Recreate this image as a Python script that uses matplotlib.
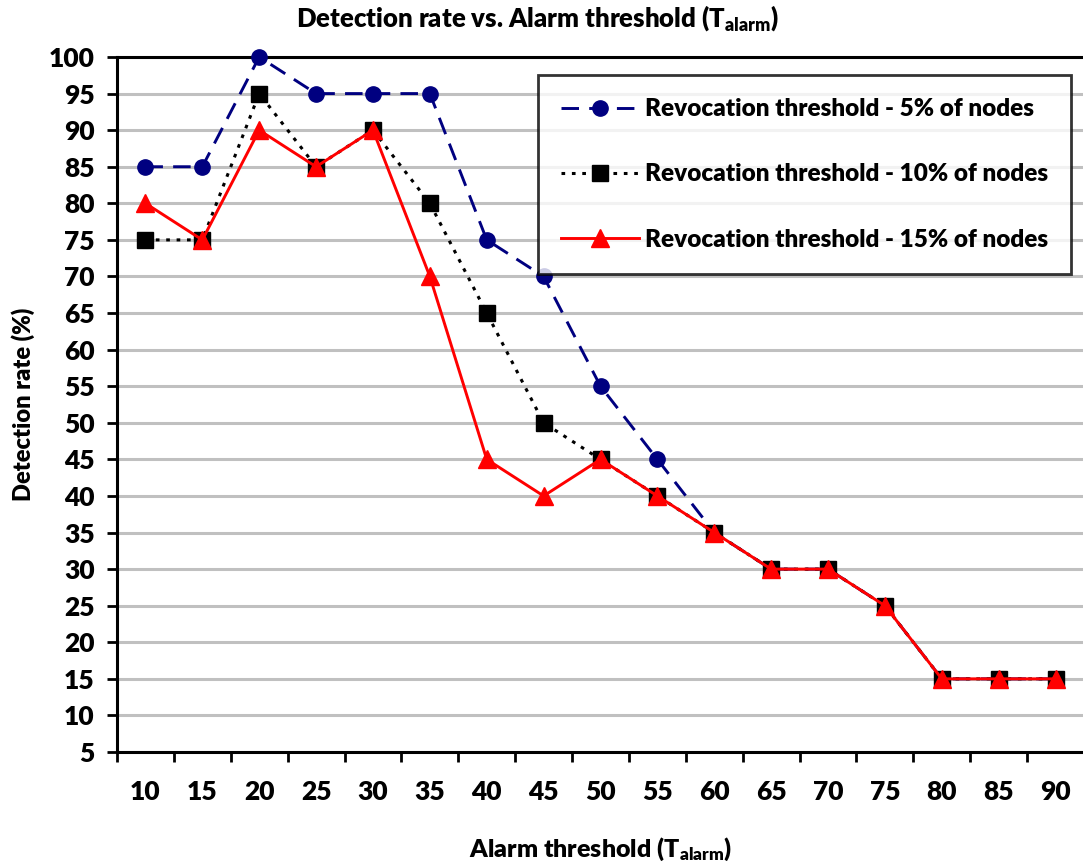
import matplotlib
matplotlib.use("Agg")
import matplotlib.pyplot as plt
from matplotlib.ticker import FixedLocator

plt.rcParams['font.family'] = ['Lato', 'DejaVu Sans']
plt.rcParams['font.weight'] = 'heavy'
plt.rcParams['mathtext.fontset'] = 'custom'
plt.rcParams['mathtext.rm'] = 'Lato:heavy'
plt.rcParams['mathtext.it'] = 'Lato:heavy'
plt.rcParams['mathtext.bf'] = 'Lato:heavy'

categories = ["10", "15", "20", "25", "30", "35", "40", "45", "50",
              "55", "60", "65", "70", "75", "80", "85", "90"]
rev5 = [85, 85, 100, 95, 95, 95, 75, 70, 55, 45, 35, 30, 30, 25, 15, 15, 15]
rev10 = [75, 75, 95, 85, 90, 80, 65, 50, 45, 40, 35, 30, 30, 25, 15, 15, 15]
rev15 = [80, 75, 90, 85, 90, 70, 45, 40, 45, 40, 35, 30, 30, 25, 15, 15, 15]
labels = ["Revocation threshold - 5% of nodes",
          "Revocation threshold - 10% of nodes",
          "Revocation threshold - 15% of nodes"]
yticks = list(range(5, 101, 5))

W = 'heavy'
fig = plt.figure(figsize=(10.83, 8.65), dpi=100)
ax = fig.add_axes([117/1083, 1 - 752/865, (1084-117)/1083, (752-57)/865])

x = list(range(len(categories)))
ax.plot(x, rev5, color='#000080', linestyle=(0, (6, 3.5)), linewidth=2.1,
        marker='o', markersize=11, label=labels[0], zorder=3, clip_on=False)
ax.plot(x, rev10, color='black', linestyle=(0, (1.2, 2.2)), linewidth=2.2,
        marker='s', markersize=12, label=labels[1], zorder=4, clip_on=False)
ax.plot(x, rev15, color='#ff0000', linestyle='-', linewidth=2.1,
        marker='^', markersize=12.5, label=labels[2], zorder=5, clip_on=False)

ax.set_xlim(-0.5, len(categories) - 0.5)
ax.set_ylim(5, 100)
ax.set_yticks(yticks)
ax.set_yticklabels([str(v) for v in yticks], fontweight=W)
ax.yaxis.grid(True, color='#c0c0c0', linewidth=2.2)
ax.set_axisbelow(True)

ax.set_xticks(x)
ax.set_xticklabels(categories, fontweight=W)
ax.xaxis.set_minor_locator(FixedLocator([i - 0.5 for i in range(len(categories) + 1)]))
ax.tick_params(axis='x', which='major', length=0, pad=20, labelsize=19)
ax.tick_params(axis='x', which='minor', length=7, width=2, direction='out')
ax.tick_params(axis='y', which='major', length=7, width=2, direction='out', labelsize=19, pad=9)

for s in ['left', 'bottom', 'top']:
    ax.spines[s].set_linewidth(2.2)
    ax.spines[s].set_color('black')
ax.spines['right'].set_visible(False)

fig.text(538/1083, 1 - 18/865, r"Detection rate vs. Alarm threshold (T$_{\mathrm{alarm}}$)",
         fontsize=18.5, fontweight=W, ha='center', va='center')
ax.set_xlabel(r"Alarm threshold (T$_{\mathrm{alarm}}$)", fontsize=18,
              fontweight=W, labelpad=23)
ax.set_ylabel("Detection rate (%)", fontsize=17, fontweight=W, labelpad=10)

leg = ax.legend(loc='upper right', bbox_to_anchor=((1071-117)/967, (752-75)/695),
                frameon=True, fancybox=False, edgecolor='black',
                handlelength=3.2, labelspacing=1.78,
                borderpad=0.95, handletextpad=0.25, borderaxespad=0,
                prop={'weight': W, 'size': 17.5})
leg.get_frame().set_linewidth(2)

fig.savefig("out.png", dpi=100)
